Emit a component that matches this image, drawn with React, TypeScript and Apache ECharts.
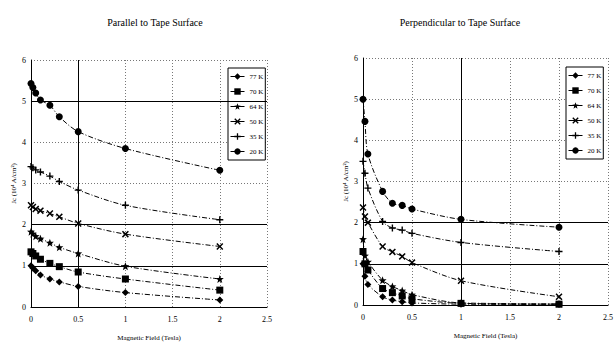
import React, { useEffect, useRef } from "react";
import * as echarts from "echarts";

const seriesNames = ["77 K", "70 K", "64 K", "50 K", "35 K", "20 K"];

const parX = [0, 0.02, 0.05, 0.1, 0.2, 0.3, 0.5, 1, 2];
const par77 = [1.0, 0.95, 0.88, 0.78, 0.68, 0.61, 0.5, 0.35, 0.17];
const par70 = [1.34, 1.3, 1.24, 1.16, 1.06, 0.98, 0.85, 0.68, 0.41];
const par64 = [1.83, 1.78, 1.72, 1.66, 1.56, 1.45, 1.3, 0.99, 0.68];
const par50 = [2.47, 2.43, 2.38, 2.34, 2.27, 2.19, 2.03, 1.77, 1.47];
const par35 = [3.41, 3.38, 3.33, 3.28, 3.18, 3.05, 2.84, 2.47, 2.12];
const par20 = [5.43, 5.33, 5.2, 5.03, 4.9, 4.62, 4.26, 3.85, 3.32];

const perX = [0, 0.02, 0.05, 0.2, 0.3, 0.4, 0.5, 1, 2];
const per77 = [1.0, 0.7, 0.5, 0.2, 0.12, 0.08, 0.05, 0.02, 0.01];
const per70 = [1.3, 1.0, 0.85, 0.4, 0.3, 0.22, 0.15, 0.04, 0.02];
const per64 = [1.6, 1.2, 1.05, 0.6, 0.45, 0.35, 0.25, 0.05, 0.03];
const per50 = [2.37, 2.15, 2.0, 1.42, 1.29, 1.18, 1.03, 0.59, 0.2];
const per35 = [3.49, 3.2, 2.84, 2.03, 1.87, 1.82, 1.74, 1.52, 1.3];
const per20 = [5.0, 4.46, 3.67, 2.76, 2.47, 2.42, 2.33, 2.08, 1.89];

const titles = ["Parallel to Tape Surface", "Perpendicular to Tape Surface"];
const xName = "Magnetic Field (Tesla)";
const yName = "Jc (10\u2074 A/cm\u00B2)";

const XSYM = "path://M0,1.5L1.5,0L5,3.5L8.5,0L10,1.5L6.5,5L10,8.5L8.5,10L5,6.5L1.5,10L0,8.5L3.5,5Z";
const PLUS = "path://M4,0L6,0L6,4L10,4L10,6L6,6L6,10L4,10L4,6L0,6L0,4L4,4Z";
const STAR = "path://M5,0L6.3,3.6L10,3.8L7.1,6.1L8.1,10L5,7.8L1.9,10L2.9,6.1L0,3.8L3.7,3.6Z";
const symbols = ["diamond", "rect", STAR, XSYM, PLUS, "circle"];
const sizes = [7, 7, 8, 7, 7, 7];

const FONT = "'Liberation Serif', 'Times New Roman', serif";

export default function App() {
  const ref = useRef<HTMLDivElement>(null);
  useEffect(() => {
    if (!ref.current) return;
    const chart = echarts.init(ref.current, undefined, { renderer: "svg" });
    const parSets = [par77, par70, par64, par50, par35, par20];
    const perSets = [per77, per70, per64, per50, per35, per20];

    const mkSeries = (xs: number[], sets: number[][], idx: number) =>
      sets.map((ys, i) => ({
        name: seriesNames[i],
        type: "line",
        xAxisIndex: idx,
        yAxisIndex: idx,
        smooth: 0.3,
        data: xs.map((x, j) => [x, ys[j]]),
        symbol: symbols[i],
        symbolSize: sizes[i],
        itemStyle: { color: "#000" },
        lineStyle: { color: "#000", width: 1, type: [5, 2, 1, 2] },
        z: 3,
      }));

    const mkMark = (idx: number, ys: number[], xs: number[]) => ({
      type: "line",
      xAxisIndex: idx,
      yAxisIndex: idx,
      data: [],
      silent: true,
      itemStyle: { color: "#000" },
      lineStyle: { color: "#000" },
      markLine: {
        symbol: "none",
        silent: true,
        label: { show: false },
        lineStyle: { color: "#000", width: 1, type: "solid" },
        data: [
          ...ys.map((v) => ({ yAxis: v })),
          ...xs.map((v) => ({ xAxis: v })),
        ],
      },
    });

    const axisCommon = {
      axisLine: { show: true, onZero: false, lineStyle: { color: "#000", width: 1 } },
      axisTick: { show: false },
      axisLabel: { color: "#000", fontSize: 8, fontFamily: FONT },
      splitLine: { show: true, lineStyle: { color: "#777", type: [1, 2], width: 1 } },
      nameTextStyle: { color: "#000", fontSize: 7, fontFamily: FONT },
    };

    const legendCommon = {
      orient: "vertical",
      itemWidth: 14,
      itemHeight: 8,
      itemGap: 8,
      padding: [5, 2, 5, 2],
      borderColor: "#000",
      borderWidth: 1,
      backgroundColor: "#fff",
      textStyle: { color: "#000", fontSize: 7, fontFamily: FONT },
      itemStyle: { color: "#000" },
      lineStyle: { color: "#000", type: "solid", width: 1 },
      data: seriesNames,
      selectedMode: false,
    };

    chart.setOption({
      animation: false,
      backgroundColor: "#fff",
      title: [
        { text: titles[0], left: 150, top: 12, textAlign: "center", textStyle: { fontSize: 10, fontWeight: "normal", color: "#000", fontFamily: FONT } },
        { text: titles[1], left: 455, top: 12, textAlign: "center", textStyle: { fontSize: 10, fontWeight: "normal", color: "#000", fontFamily: FONT } },
      ],
      legend: [
        { ...legendCommon, left: 228, top: 68 },
        { ...legendCommon, left: 566, top: 67 },
      ],
      grid: [
        { left: 31, right: 349, top: 60, bottom: 40 },
        { left: 363, right: 8, top: 58, bottom: 42 },
      ],
      xAxis: [0, 1].map((i) => ({
        ...axisCommon,
        type: "value",
        gridIndex: i,
        min: 0,
        max: 2.5,
        interval: 0.5,
        name: xName,
        nameLocation: "middle",
        nameGap: 27,
        axisLabel: { ...axisCommon.axisLabel, margin: 8 },
      })),
      yAxis: [0, 1].map((i) => ({
        ...axisCommon,
        type: "value",
        gridIndex: i,
        min: 0,
        max: 6,
        interval: 1,
        name: yName,
        nameLocation: "middle",
        nameGap: 14,
        axisLabel: { ...axisCommon.axisLabel, margin: 5 },
      })),
      series: [
        ...mkSeries(parX, parSets, 0),
        ...mkSeries(perX, perSets, 1),
        mkMark(0, [1, 2, 5], [0.5]),
        mkMark(1, [1, 2], [1]),
      ],
    });
    return () => chart.dispose();
  }, []);
  return <div ref={ref} style={{ position: "fixed", left: 0, top: 0, width: 616, height: 347 }} />;
}
